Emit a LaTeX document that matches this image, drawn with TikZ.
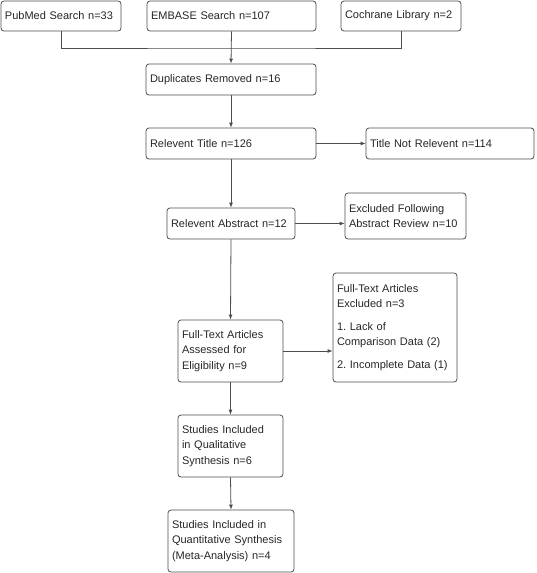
\documentclass[tikz,border=0pt]{standalone}
\usepackage{fontspec}
\setmainfont{Liberation Sans}
\usetikzlibrary{arrows.meta}
\frenchspacing

\begin{document}
\begin{tikzpicture}[x=1pt, y=-1pt,
    box/.style={draw=black!70, line width=0.8pt, rounded corners=3pt, align=left,
      inner xsep=4pt, inner ysep=0pt, text=black!85,
      font=\fontsize{11}{15.5}\selectfont},
    link/.style={draw=black!70, line width=0.8pt},
    arr/.style={link, -{Latex[length=5pt,width=4pt]}}]
      \useasboundingbox (0,0) rectangle (536,573);
      \node[box, text width=112pt, minimum height=30pt] (PM) at (61,16) {PubMed Search n=33};
      \node[box, text width=161pt, minimum height=30pt] (EM) at (231.5,16) {EMBASE Search n=107};
      \node[box, text width=112pt, minimum height=30pt] (CL) at (401,16) {Cochrane Library n=2};
      \node[box, text width=162pt, minimum height=31pt] (DR) at (231,79.5) {Duplicates Removed n=16};
      \node[box, text width=162pt, minimum height=31pt] (RT) at (231,143.5) {Relevent Title n=126};
      \node[box, text width=160pt, minimum height=31pt] (TN) at (450,143.5) {Title Not Relevent n=114};
      \node[box, text width=120pt, minimum height=31pt] (RA) at (231,223.5) {Relevent Abstract n=12};
      \node[box, text width=113pt, minimum height=46pt] (EA) at (405.5,216) {Excluded Following\\Abstract Review n=10};
      \node[box, text width=97pt, minimum height=62pt] (FT) at (230.5,351) {Full-Text Articles\\Assessed for\\Eligibility n=9};
      \node[box, text width=116pt, minimum height=109pt] (FE) at (395,327.5) {Full-Text Articles\\Excluded n=3\\[7pt]1. Lack of\\Comparison Data (2)\\[7pt]2. Incomplete Data (1)};
      \node[box, text width=97pt, minimum height=62pt] (QL) at (230.5,446) {Studies Included\\in Qualitative\\Synthesis n=6};
      \node[box, text width=118pt, minimum height=62pt] (QN) at (231,541) {Studies Included in\\Quantitative Synthesis\\(Meta-Analysis) n=4};
      \coordinate (bus) at (231.5,48);
      \draw[link] (PM.south) |- (bus) -| (CL.south);
      \draw[arr] (EM.south) -- (DR.north);
      \draw[arr] (DR.south) -- (RT.north);
      \draw[arr] (RT.east) -- (TN.west);
      \draw[arr] (RT.south) -- (RA.north);
      \draw[arr] (RA.east) -- (RA.east -| EA.west);
      \draw[arr] (RA.south) -- (FT.north);
      \draw[arr] (FT.east) -- (FT.east -| FE.west);
      \draw[arr] (FT.south) -- (QL.north);
      \draw[arr] (QL.south) -- (QN.north);
    \end{tikzpicture}
\end{document}
